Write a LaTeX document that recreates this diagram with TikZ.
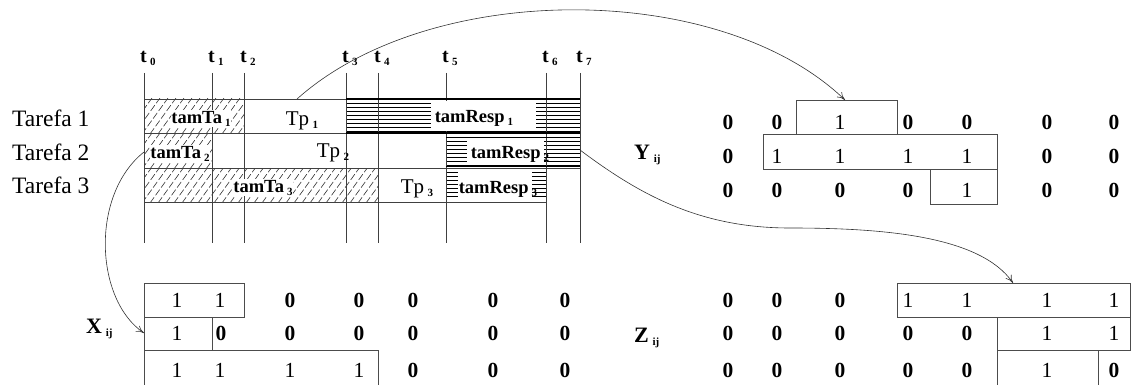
\documentclass[tikz,border=0pt]{standalone}
\usepackage{fontspec}
\setmainfont{Liberation Serif}
\usetikzlibrary{arrows.meta}
\newcommand{\sbs}[1]{\raisebox{-3pt}{\fontsize{11}{11}\selectfont\bfseries #1}}
\newcommand{\dg}[1]{\ifnum#1=0 \textbf{0}\else 1\fi}
\begin{document}
\begin{tikzpicture}[x=1pt,y=-1pt,
  grid/.style={draw=black!75,line width=0.8pt},
  hatchd/.style={draw=black!80,line width=0.6pt,dash pattern=on 7pt off 2.5pt},
  hatchh/.style={draw=black,line width=0.6pt},
  thickb/.style={draw=black,line width=1.4pt},
  tlbl/.style={anchor=base west,inner sep=0pt,font=\fontsize{20}{22}\selectfont\bfseries},
  task/.style={anchor=base west,inner sep=0pt,font=\fontsize{23.5}{26}\selectfont},
  seg/.style={anchor=base,inner sep=0.5pt,fill=white,font=\fontsize{18.5}{20}\selectfont\bfseries},
  tp/.style={anchor=base,inner sep=0pt,font=\fontsize{21}{24}\selectfont},
  cell/.style={inner sep=0pt,font=\fontsize{21.5}{24}\selectfont},
  mlbl/.style={anchor=base west,inner sep=0pt,font=\fontsize{22}{24}\selectfont\bfseries},
  box/.style={draw=black!70,line width=0.8pt},
  conn/.style={draw=black!80,line width=0.6pt,-{To[length=8pt,width=7pt]}}
]
\useasboundingbox (0,0) rectangle (1131,385);

% ---------- diagonal hatching ----------
\begin{scope}
  \clip (144,99) rectangle (244,133);
  \foreach \i in {0,...,16} \draw[hatchd] (118+\i*8,134) -- ++(26,-36);
\end{scope}
\begin{scope}
  \clip (144,133) rectangle (212,168);
  \foreach \i in {0,...,12} \draw[hatchd] (118+\i*8,169) -- ++(26,-36);
\end{scope}
\begin{scope}
  \clip (144,168) rectangle (378,202);
  \foreach \i in {0,...,33} \draw[hatchd] (118+\i*8,203) -- ++(26,-36);
\end{scope}

% ---------- horizontal hatching ----------
\foreach \y in {103,107,...,131} \draw[hatchh] (346,\y) -- (580,\y);
\foreach \y in {137,141,...,166} \draw[hatchh] (446,\y) -- (580,\y);
\foreach \y in {172,176,...,199} \draw[hatchh] (446,\y) -- (546,\y);

% ---------- time lines ----------
\foreach \x/\n in {144/0,212/1,244/2,346/3,378/4,446/5,546/6,580/7} {
  \draw[grid] (\x,73) -- (\x,243);
  \node[tlbl] (t\n) at (\x-4,63) {t\,\sbs{\n}};
}
\draw[grid] (144,99) -- (580,99);
\draw[grid] (144,133) -- (580,133);
\draw[grid] (144,168) -- (580,168);
\draw[grid] (144,202) -- (546,202);

% white areas behind the response labels
\fill[white] (431,101) rectangle (536,131);
\fill[white] (467,138) rectangle (544,165);
\fill[white] (458,171) rectangle (532,200);

\draw[thickb] (346,99) -- (580,99);
\draw[thickb] (346,133) -- (580,133);
\draw[black,line width=1pt] (446,137) -- (580,137);
\draw[black,line width=1pt] (446,166) -- (580,166);

% ---------- task labels ----------
\node[task] (task1) at (12,127) {Tarefa 1};
\node[task] (task2) at (12,160) {Tarefa 2};
\node[task] (task3) at (12,193) {Tarefa 3};

\node[seg] (ta1) at (201,123) {tamTa\,\sbs{1}};
\node[seg] (ta2) at (180,158) {tamTa\,\sbs{2}};
\node[seg] (ta3) at (263,192) {tamTa\,\sbs{3}};
\node[tp] (tp1) at (302,125) {Tp\,\sbs{1}};
\node[tp] (tp2) at (333,157) {Tp\,\sbs{2}};
\node[tp] (tp3) at (417,193) {Tp\,\sbs{3}};
\node[seg,fill=none] (tr1) at (474,122) {tamResp\,\sbs{1}};
\node[seg,fill=none] (tr2) at (510,158) {tamResp\,\sbs{2}};
\node[seg,fill=none] (tr3) at (498,193) {tamResp\,\sbs{3}};

% ---------- matrix X ----------
\node[mlbl] (xl) at (86,333) {X\,\sbs{ij}};
\foreach \v/\x [count=\c] in {1/177,1/220,0/290,0/359,0/413,0/493,0/565}
  \node[cell] (x1-\c) at (\x,300) {\dg{\v}};
\foreach \v/\x [count=\c] in {1/177,0/221,0/290,0/359,0/413,0/493,0/565}
  \node[cell] (x2-\c) at (\x,333) {\dg{\v}};
\foreach \v/\x [count=\c] in {1/177,1/220,1/290,1/359,0/413,0/493,0/565}
  \node[cell] (x3-\c) at (\x,370) {\dg{\v}};
\draw[box] (144,283) rectangle (244,317);
\draw[box] (144,317) rectangle (212,350);
\draw[box] (144,385) -- (144,350) -- (378,350) -- (378,385);

% ---------- matrix Y ----------
\node[mlbl] (yl) at (634,159) {Y\,\sbs{ij}};
\foreach \v/\x [count=\c] in {0/728,0/777,1/840,0/908,0/967,0/1047,0/1114}
  \node[cell] (y1-\c) at (\x,122) {\dg{\v}};
\foreach \v/\x [count=\c] in {0/728,1/777,1/840,1/908,1/967,0/1047,0/1114}
  \node[cell] (y2-\c) at (\x,156) {\dg{\v}};
\foreach \v/\x [count=\c] in {0/728,0/777,0/840,0/908,1/967,0/1047,0/1114}
  \node[cell] (y3-\c) at (\x,190) {\dg{\v}};
\draw[box] (796,100) rectangle (897,134);
\draw[box] (763,134) rectangle (997,169);
\draw[box] (930,169) rectangle (997,204);

% ---------- matrix Z ----------
\node[mlbl] (zl) at (634,342) {Z\,\sbs{ij}};
\foreach \v/\x [count=\c] in {0/728,0/777,0/840,1/908,1/967,1/1047,1/1114}
  \node[cell] (z1-\c) at (\x,300) {\dg{\v}};
\foreach \v/\x [count=\c] in {0/728,0/777,0/840,0/908,0/967,1/1047,1/1114}
  \node[cell] (z2-\c) at (\x,333) {\dg{\v}};
\foreach \v/\x [count=\c] in {0/728,0/777,0/840,0/908,0/967,1/1047,0/1114}
  \node[cell] (z3-\c) at (\x,370) {\dg{\v}};
\draw[box] (897,283) rectangle (1130,317);
\draw[box] (997,317) rectangle (1130,350);
\draw[box] (997,385) -- (997,350) -- (1130,350);
\draw[box] (1098,350) -- (1098,385);

% ---------- connectors ----------
\coordinate (a1s) at (297,99);
\coordinate (a1e) at (845,100);
\coordinate (a2s) at (144,152);
\coordinate (a2e) at (144,333);
\coordinate (a3s) at (580,150);
\coordinate (a3m) at (790,228);
\coordinate (a3e) at (1013,283);
\draw[conn] (a1s) .. controls (430,-20) and (720,-20) .. (a1e);
\draw[conn] (a2s) .. controls (90,195) and (95,300) .. (a2e);
\draw[conn] (a3s) .. controls (640,195) and (700,228) .. (a3m)
                  .. controls (880,228) and (980,235) .. (a3e);
\end{tikzpicture}
\end{document}
